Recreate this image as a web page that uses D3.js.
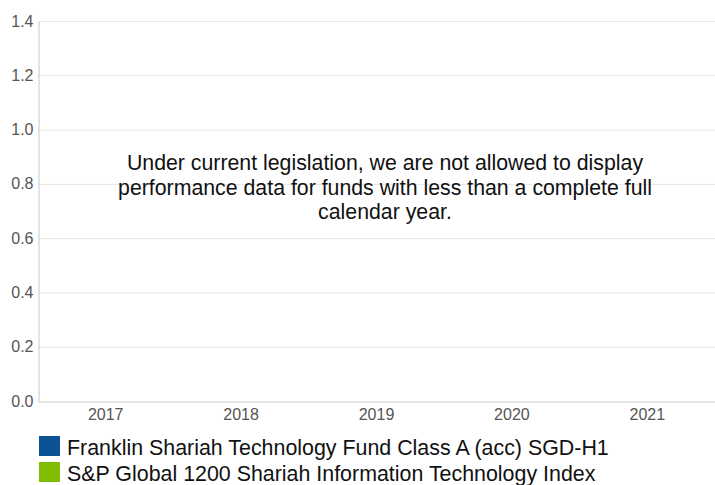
<!DOCTYPE html>
<html>
<head>
<meta charset="utf-8">
<script src="https://cdn.jsdelivr.net/npm/d3@7"></script>
<style>
  body { margin: 0; background: #fff; }
  svg { display: block; font-family: "Liberation Sans", Arial, sans-serif; }
</style>
</head>
<body>
<svg id="chart" width="715" height="485"></svg>
<script>
const years = ["2017", "2018", "2019", "2020", "2021"];
const yTicks = [0, 0.2, 0.4, 0.6, 0.8, 1.0, 1.2, 1.4];
const seriesNames = [
  "Franklin Shariah Technology Fund Class A (acc) SGD-H1",
  "S&P Global 1200 Shariah Information Technology Index"
];
const seriesColors = ["#0b5394", "#80bc00"];
const message = [
  "Under current legislation, we are not allowed to display",
  "performance data for funds with less than a complete full",
  "calendar year."
];

const width = 715;
const margin = { top: 21, right: 0, bottom: 84, left: 38 };
const plotBottom = 485 - margin.bottom;
const font = "Liberation Sans, Arial, sans-serif";

const svg = d3.select("#chart");

const x = d3.scaleBand().domain(years).range([margin.left, width - margin.right]);
const y = d3.scaleLinear().domain([0, 1.4]).range([plotBottom, margin.top]);

// Gridlines
svg.append("g")
  .selectAll("line")
  .data(yTicks.filter((d) => d > 0))
  .enter()
  .append("line")
  .attr("x1", margin.left)
  .attr("x2", width)
  .attr("y1", (d) => y(d) + 0.5)
  .attr("y2", (d) => y(d) + 0.5)
  .attr("stroke", "#e6e6e6");

// Y axis
const yAxis = svg.append("g")
  .attr("transform", `translate(${margin.left + 0.5},0)`)
  .call(d3.axisLeft(y).tickValues(yTicks).tickFormat(d3.format(".1f")).tickSize(0).tickPadding(5));
yAxis.attr("font-family", font).attr("font-size", 16);
yAxis.select(".domain").attr("stroke", "#c8c8c8");
yAxis.selectAll("text").attr("fill", "#555");

// X axis
const xAxis = svg.append("g")
  .attr("transform", `translate(0,${plotBottom + 0.5})`)
  .call(d3.axisBottom(x).tickSize(0).tickPadding(7));
xAxis.attr("font-family", font).attr("font-size", 16);
xAxis.select(".domain").attr("stroke", "#c8c8c8");
xAxis.selectAll("text").attr("fill", "#555");

// No-data message
svg.append("text")
  .attr("x", 385)
  .attr("y", 170)
  .attr("text-anchor", "middle")
  .attr("font-size", "21.3px")
  .attr("fill", "#111")
  .selectAll("tspan")
  .data(message)
  .enter()
  .append("tspan")
  .attr("x", 385)
  .attr("dy", (d, i) => (i === 0 ? 0 : 24.5))
  .text((d) => d);

// Legend
const legend = svg.append("g")
  .selectAll("g")
  .data(seriesNames)
  .enter()
  .append("g")
  .attr("transform", (d, i) => `translate(39,${436 + i * 26})`);

legend.append("rect")
  .attr("width", 21)
  .attr("height", 20)
  .attr("fill", (d, i) => seriesColors[i]);

legend.append("text")
  .attr("x", 28)
  .attr("y", 19)
  .attr("font-size", "21.4px")
  .attr("fill", "#111")
  .text((d) => d);
</script>
</body>
</html>
